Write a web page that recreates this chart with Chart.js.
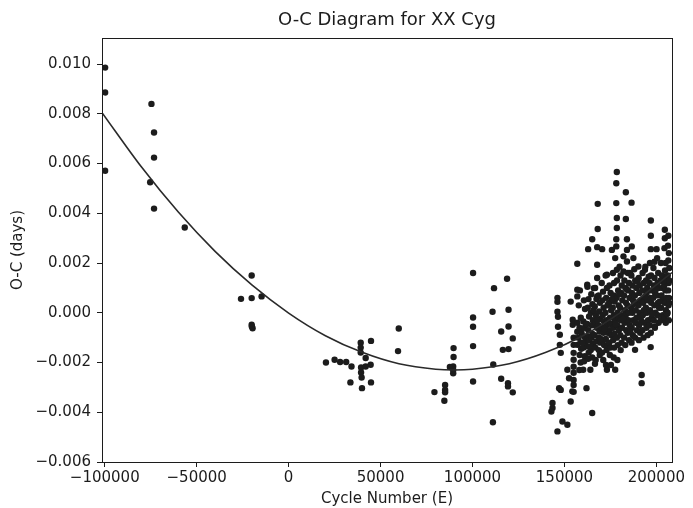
<!DOCTYPE html>
<html>
<head>
<meta charset="utf-8">
<script src="https://cdn.jsdelivr.net/npm/chart.js@4/dist/chart.umd.min.js"></script>
<style>
  html, body { margin: 0; padding: 0; background: #fff; }
</style>
</head>
<body>
<canvas id="ocChart" width="693" height="508"></canvas>
<script>
const chartTitle = 'O-C Diagram for XX Cyg';
const xLabel = 'Cycle Number (E)';
const yLabel = 'O-C (days)';

const xTickValues = [-100000, -50000, 0, 50000, 100000, 150000, 200000];
const yTickValues = [-0.006, -0.004, -0.002, 0, 0.002, 0.004, 0.006, 0.008, 0.010];

// scattered timings: [cycle, O-C in 1e-3 days]
const sparseObs = [
  [-99800, 9.86], [-99800, 8.86], [-99800, 5.71],
  [-74600, 8.40], [-73200, 7.25], [-73200, 6.24], [-75300, 5.25], [-73200, 4.19],
  [-56500, 3.43],
  [-20100, 1.50], [-25900, 0.56], [-20100, 0.59], [-14700, 0.66],
  [-20100, -0.48], [-19600, -0.62], [-20000, -0.55],
  [20300, -2.00], [25000, -1.89], [28000, -1.98], [31300, -1.98], [34200, -2.16],
  [33600, -2.80], [39900, -3.03], [44800, -2.80], [44800, -1.13], [39200, -1.20],
  [39200, -1.40], [39200, -1.60], [41900, -1.82], [39400, -2.20], [39400, -2.40],
  [39700, -2.60], [44600, -2.09], [41900, -2.16],
  [59900, -0.63], [59500, -1.54],
  [89700, -1.42], [89700, -1.78], [89500, -2.16], [89500, -2.30], [89500, -2.43],
  [87700, -2.18], [85100, -2.90], [85100, -3.10], [85100, -3.20], [84700, -3.54],
  [79300, -3.19],
  [100300, 1.60], [100300, -0.19], [100300, -0.56], [100300, -1.34], [100300, -2.76],
  [111700, 0.99], [118800, 1.37], [110900, 0.04], [119600, 0.12], [119600, -0.55],
  [115600, -0.75], [121900, -1.03], [116500, -1.49], [119600, -1.46], [111300, -2.08],
  [115600, -2.65], [119300, -2.83], [119300, -2.96], [121900, -3.20], [111100, -4.40],
  [143500, -3.63], [143500, -3.83], [142900, -3.97], [147100, -3.03], [148000, -3.10],
  [148900, -4.37], [151600, -4.50], [146200, -4.77],
  [151600, -2.29], [152500, -2.63], [154300, -3.16], [153400, -3.57],
  [146200, 0.60], [146200, 0.44], [146200, 0.04], [146500, -0.16], [146500, -0.56],
  [147500, -0.88], [147500, -1.29], [148000, -1.61],
  [153400, 0.45], [154500, -0.28], [154500, -0.48], [155000, -1.00], [155000, -1.29],
  [155000, -1.61], [155000, -1.89], [155000, -2.17], [155000, -2.41], [155000, -2.70],
  [155000, -2.90], [155000, -3.18],
  [157000, 0.93], [157000, 0.66], [157000, 1.97], [157000, -0.40], [157000, -0.76],
  [157000, -1.29],
  [162000, -3.03], [165100, -4.03], [160200, -2.29], [164100, -2.29], [173100, -2.29],
  [177600, -2.29], [188400, -1.49], [196900, -1.38], [192000, -2.50], [192000, -2.83],
  [199200, -0.55],
  [178500, 5.66], [178200, 5.21], [183400, 4.85], [168100, 4.38], [178200, 4.41],
  [186500, 4.43], [178500, 3.81], [183400, 3.77], [197000, 3.71], [168100, 3.37],
  [178500, 3.41], [165100, 2.96], [178200, 2.96], [184000, 2.96], [197000, 3.10],
  [204600, 3.34], [204600, 3.00], [162900, 2.56], [167800, 2.64], [170500, 2.56],
  [175800, 2.53], [178200, 2.67], [184000, 2.53], [186600, 2.67], [197000, 2.56],
  [200100, 2.56], [167800, 1.93], [177600, 2.20], [182100, 2.27], [184000, 2.06],
  [187500, 2.20], [178500, 1.73], [182100, 1.66], [185700, 1.60], [190200, 1.86],
  [193800, 1.73], [173100, 1.53], [167800, 1.40], [162400, 1.13], [166000, 0.99],
  [167800, 0.66]
];

// crowded recent timings: [cycle, O-C in 1e-3 days]
const denseObs = [
  [158400, 0.9], [157800, 0.3], [158900, -0.2], [158200, -0.6], [159300, -0.8],
  [157600, -1.0], [158700, -1.2], [159100, -1.45], [158300, -1.7], [158800, -2.0], [158100, -2.3],
  [160600, 0.5], [161200, 0.15], [160300, -0.35], [161000, -0.6], [160800, -0.95],
  [161400, -1.15], [160500, -1.4], [161100, -1.75], [160700, -1.95],
  [162500, 1.05], [163100, 0.55], [162700, 0.2], [163400, -0.15], [162300, -0.45],
  [163000, -0.7], [162800, -0.95], [163500, -1.1], [162600, -1.35], [163200, -1.6], [162900, -1.85],
  [164600, 0.75], [165200, 0.35], [164400, 0.0], [165500, -0.3], [164900, -0.5],
  [165300, -0.85], [164700, -1.0], [165600, -1.25], [164300, -1.5], [165100, -1.8],
  [166700, 1.0], [167400, 0.55], [166500, 0.25], [167100, -0.1], [166900, -0.4],
  [167600, -0.6], [166400, -0.9], [167300, -1.15], [166800, -1.4], [167000, -1.9], [166600, -2.05],
  [168600, 0.7], [169300, 0.4], [168900, 0.05], [169600, -0.25], [168400, -0.5],
  [169100, -0.75], [168800, -1.0], [169500, -1.2], [168700, -1.5], [169200, -1.7],
  [170300, 1.2], [171000, 0.85], [170600, 0.5], [171300, 0.2], [170800, -0.1],
  [171500, -0.35], [170400, -0.6], [171200, -0.8], [170900, -1.1], [171600, -1.3],
  [170500, -1.6], [171100, -1.9],
  [172400, 1.5], [173100, 1.0], [172700, 0.6], [173400, 0.3], [172300, 0.0],
  [173000, -0.3], [172800, -0.5], [173600, -0.8], [172500, -1.05], [173300, -1.3],
  [172900, -1.5], [172600, -2.1],
  [174500, 1.1], [175100, 0.8], [174300, 0.4], [175400, 0.1], [174800, -0.2],
  [175200, -0.45], [174600, -0.7], [175500, -0.9], [174400, -1.2], [175000, -1.4],
  [174700, -1.7], [175300, -2.1],
  [176400, 1.6], [177000, 1.2], [176700, 0.7], [177300, 0.45], [176300, 0.2],
  [176900, -0.1], [177500, -0.3], [176600, -0.6], [177200, -0.85], [176500, -1.1],
  [177100, -1.4], [176800, -1.8],
  [178600, 1.3], [179200, 0.9], [178400, 0.6], [179500, 0.3], [178900, 0.0],
  [179300, -0.2], [178700, -0.5], [179600, -0.7], [178500, -1.0], [179000, -1.3], [178800, -1.9],
  [180500, 1.5], [181200, 1.1], [180800, 0.8], [181500, 0.5], [180300, 0.2],
  [181000, -0.1], [180700, -0.3], [181300, -0.6], [180400, -0.9], [181100, -1.2], [180600, -1.5],
  [182600, 1.3], [183200, 1.0], [182400, 0.7], [183500, 0.4], [182900, 0.1],
  [183300, -0.1], [182700, -0.4], [183600, -0.7], [182500, -1.0], [183100, -1.3],
  [184500, 1.6], [185100, 1.2], [184700, 0.9], [185400, 0.6], [184300, 0.3],
  [185000, 0.0], [184800, -0.3], [185500, -0.5], [184400, -0.8], [185200, -1.1],
  [186400, 1.5], [187000, 1.1], [186700, 0.8], [187300, 0.5], [186300, 0.2],
  [186900, 0.0], [187500, -0.3], [186600, -0.6], [187200, -0.9], [186500, -1.2],
  [188500, 1.3], [189100, 1.0], [188300, 0.7], [189400, 0.4], [188800, 0.1],
  [189200, -0.2], [188600, -0.4], [189500, -0.7], [188400, -1.0],
  [190400, 1.4], [191000, 1.1], [190700, 0.8], [191300, 0.5], [190300, 0.3],
  [190900, 0.0], [191500, -0.2], [190600, -0.5], [191200, -0.8], [190500, -1.1],
  [192500, 1.6], [193100, 1.2], [192300, 0.9], [193400, 0.6], [192800, 0.4],
  [193200, 0.1], [192600, -0.1], [193500, -0.4], [192400, -0.7], [193000, -1.0],
  [194400, 1.3], [195000, 1.0], [194700, 0.8], [195300, 0.5], [194300, 0.2],
  [194900, 0.0], [195500, -0.3], [194600, -0.6], [195200, -0.9],
  [196500, 2.0], [197100, 1.5], [196300, 1.2], [197400, 0.9], [196800, 0.6],
  [197200, 0.4], [196600, 0.1], [197500, -0.2], [196400, -0.5], [197000, -0.8],
  [198400, 1.8], [199000, 1.4], [198700, 1.1], [199300, 0.8], [198300, 0.6],
  [198900, 0.3], [199500, 0.0], [198600, -0.3], [199200, -0.6],
  [200400, 2.2], [201000, 1.6], [200700, 1.2], [201300, 1.0], [200300, 0.7],
  [200900, 0.4], [201500, 0.2], [200600, -0.1], [201200, -0.4],
  [202500, 2.0], [203100, 1.5], [202300, 1.3], [203400, 1.0], [202800, 0.7],
  [203200, 0.5], [202600, 0.2], [203500, -0.1], [202400, -0.3],
  [204400, 2.6], [205000, 2.0], [204700, 1.7], [205300, 1.4], [204300, 1.1],
  [204900, 0.9], [205500, 0.6], [204600, 0.4], [205200, 0.1], [204500, -0.2], [205100, -0.4],
  [206300, 2.7], [206800, 2.4], [206500, 2.1], [207000, 1.8], [206200, 1.5],
  [206700, 1.2], [206400, 0.9], [206900, 0.6], [206600, 0.3], [206100, 0.0], [206800, -0.3],
  [175800, 0.55], [177800, -0.45], [179800, 0.75], [181800, -0.25], [183800, 0.95],
  [185800, -0.75], [187800, 0.35], [189800, 1.25], [191800, -0.35], [193800, 0.65],
  [195800, 1.45], [197800, -0.05], [199800, 0.95], [201800, 0.45], [203800, 1.25],
  [205800, -0.05], [171800, -0.65], [173800, 0.35], [169800, -1.05], [167800, -0.3],
  [165800, 0.1], [163800, -1.35], [161800, -0.45], [159800, -1.2], [180000, 1.85],
  [188000, 1.75], [194000, 1.85], [199000, 2.05], [206500, 3.1], [207000, 1.3], [207000, 0.4]
];

// quadratic ephemeris fit
const fitCycles = [-101500, -80000, -60000, -40000, -20000, 0, 20000, 40000, 60000,
  80000, 90000, 100000, 120000, 140000, 160000, 180000, 200000, 208500];
const fitOC = [8.05, 5.86, 4.05, 2.47, 1.12, -0.01, -0.92, -1.59, -2.05,
  -2.27, -2.30, -2.27, -2.05, -1.59, -0.92, -0.01, 1.12, 1.62];

const ink = '#1c1c1c';
const font = { family: '"DejaVu Sans", sans-serif', size: 15 };

const obsPoints = sparseObs.concat(denseObs).map(([e, oc]) => ({ x: e, y: oc / 1000 }));
const fitPoints = fitCycles.map((e, i) => ({ x: e, y: fitOC[i] / 1000 }));

const minus = s => s.replace('-', '\u2212');

const framePlugin = {
  id: 'frame',
  afterDraw(chart) {
    const { ctx, chartArea: a } = chart;
    ctx.save();
    ctx.strokeStyle = ink;
    ctx.lineWidth = 1;
    ctx.strokeRect(Math.round(a.left) + 0.5, Math.round(a.top) + 0.5,
      Math.round(a.right - a.left), Math.round(a.bottom - a.top));
    ctx.fillStyle = ink;
    ctx.font = '18px "DejaVu Sans", sans-serif';
    ctx.textAlign = 'center';
    ctx.textBaseline = 'alphabetic';
    ctx.fillText(chartTitle, (a.left + a.right) / 2, a.top - 13);
    ctx.restore();
  }
};

new Chart(document.getElementById('ocChart').getContext('2d'), {
  type: 'scatter',
  data: {
    datasets: [
      {
        label: 'fit',
        data: fitPoints,
        showLine: true,
        borderColor: '#2a2a2a',
        borderWidth: 1.6,
        pointRadius: 0,
        cubicInterpolationMode: 'monotone',
        order: 0
      },
      {
        label: 'O-C',
        data: obsPoints,
        backgroundColor: ink,
        borderWidth: 0,
        pointRadius: 3.2,
        order: 1
      }
    ]
  },
  options: {
    responsive: false,
    animation: false,
    layout: { padding: { top: 38, right: 21, left: 0, bottom: 0 } },
    plugins: {
      legend: { display: false },
      tooltip: { enabled: false },
      title: { display: false }
    },
    scales: {
      x: {
        type: 'linear',
        min: -101500,
        max: 208500,
        afterBuildTicks: s => { s.ticks = xTickValues.map(v => ({ value: v })); },
        afterFit: s => { s.height = 46; },
        ticks: { font, color: ink, padding: 2, maxRotation: 0, callback: v => minus(String(v)) },
        grid: { drawOnChartArea: false, tickLength: 5, color: ink },
        border: { color: ink },
        title: { display: true, text: xLabel, font, color: ink, padding: { top: 0, bottom: 0 } }
      },
      y: {
        type: 'linear',
        min: -0.006,
        max: 0.01105,
        afterBuildTicks: s => { s.ticks = yTickValues.map(v => ({ value: v })); },
        afterFit: s => { s.width = 102; },
        ticks: {
          font, color: ink, padding: 6,
          callback: v => {
            const s = v.toFixed(3);
            return s === '-0.000' ? '0.000' : minus(s);
          }
        },
        grid: { drawOnChartArea: false, tickLength: 5, color: ink },
        border: { color: ink },
        title: { display: true, text: yLabel, font, color: ink, padding: { top: 9, bottom: 0 } }
      }
    }
  },
  plugins: [framePlugin]
});
</script>
</body>
</html>
